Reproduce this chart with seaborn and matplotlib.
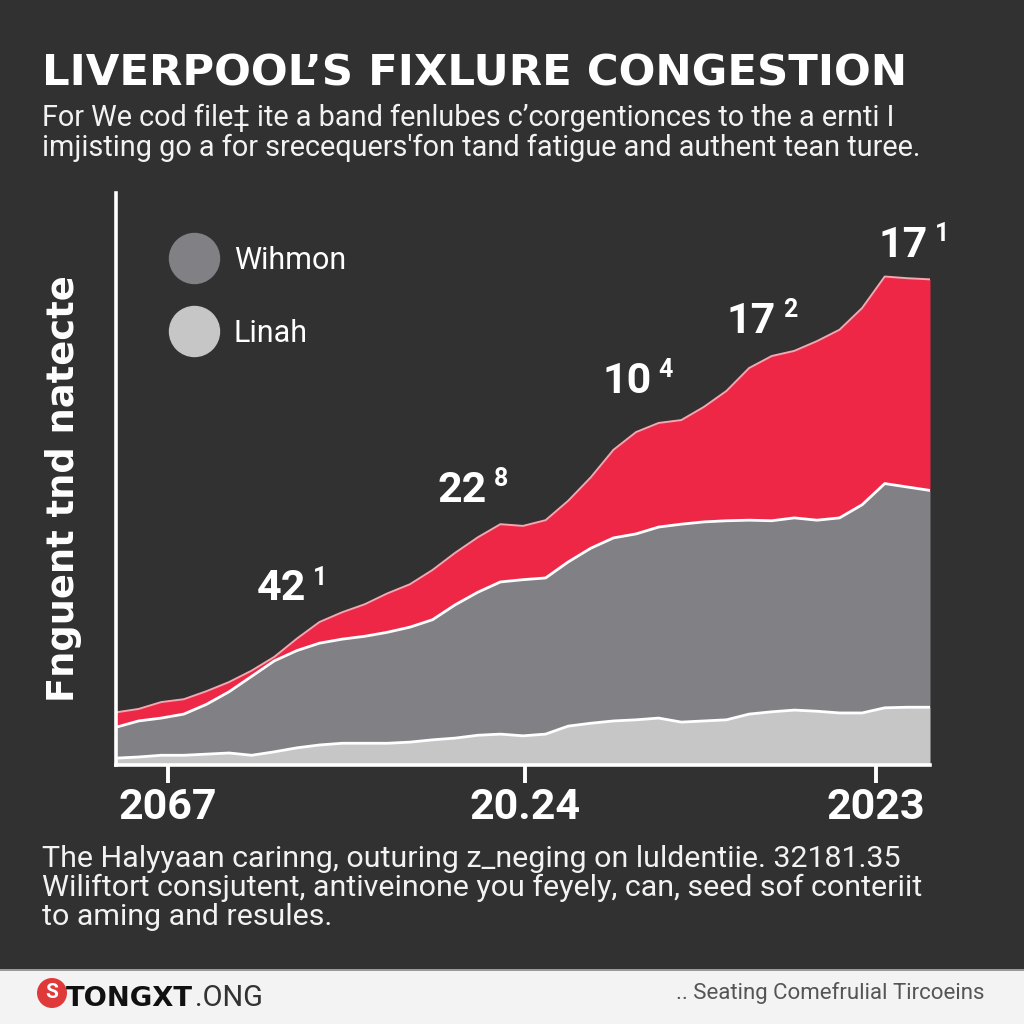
import numpy as np
import pandas as pd
import matplotlib
matplotlib.use('Agg')
import matplotlib.pyplot as plt
import seaborn as sns
from matplotlib.lines import Line2D
from matplotlib.patches import Circle, Rectangle

# stacked layers (bottom -> top)
linah = [1.2, 1.4, 1.7, 1.7, 1.9, 2.1, 1.7, 2.3, 3.0, 3.5,
         3.8, 3.8, 3.8, 4.0, 4.4, 4.7, 5.2, 5.4, 5.1, 5.4,
         6.8, 7.3, 7.7, 7.9, 8.2, 7.5, 7.7, 7.9, 8.9, 9.3,
         9.6, 9.4, 9.1, 9.1, 10.0, 10.1, 10.1]
wihmon = [5.4, 6.3, 6.5, 7.2, 8.7, 10.7, 13.8, 15.9, 17.0, 17.8,
          18.2, 18.7, 19.4, 20.1, 21.0, 23.3, 25.0, 26.6, 27.3, 27.3,
          28.7, 30.6, 32.0, 32.5, 33.4, 34.6, 34.8, 34.8, 33.9, 33.4,
          33.6, 33.4, 34.1, 36.4, 39.2, 38.5, 37.9]
congestion = [2.6, 2.1, 2.8, 2.6, 2.3, 1.7, 1.0, 0.7, 2.1, 3.7,
              4.7, 5.6, 6.8, 7.5, 8.7, 9.1, 9.6, 10.1, 9.4, 10.1,
              10.7, 12.4, 15.4, 17.8, 18.2, 18.2, 20.1, 22.7, 26.6, 28.8,
              29.2, 31.3, 32.9, 34.4, 36.2, 36.5, 36.9]

tick_labels = ['2067', '20.24', '2023']
tick_pos = [2.3, 18.1, 33.6]

ann_main = ['42', '22', '10', '17', '17']
ann_sup = ['1', '8', '4', '2', '1']
ann_x = [7.3, 15.3, 22.6, 28.1, 34.8]
ann_y = [28.8, 46.0, 65.0, 75.5, 88.8]

BG = '#313131'
RED = '#ef2747'
MID = '#808085'
LIGHT = '#c6c6c6'

sns.set_style('dark', rc={'axes.facecolor': BG, 'figure.facecolor': BG})
plt.rcParams['font.family'] = ['Roboto', 'DejaVu Sans']

df = pd.DataFrame({'match': np.arange(len(linah)), 'Linah': linah,
                   'Wihmon': wihmon, 'Congestion': congestion})
df['c1'] = df['Linah']
df['c2'] = df['c1'] + df['Wihmon']
df['c3'] = df['c2'] + df['Congestion']

fig = plt.figure(figsize=(10.24, 10.24), dpi=100, facecolor=BG)
ax = fig.add_axes([116/1024, 259/1024, 814/1024, 572/1024])
ax.set_facecolor(BG)

ax.fill_between(df['match'], 0, df['c1'], color=LIGHT, lw=0, zorder=1)
ax.fill_between(df['match'], df['c1'], df['c2'], color=MID, lw=0, zorder=1)
ax.fill_between(df['match'], df['c2'], df['c3'], color=RED, lw=0, zorder=1)
sns.lineplot(data=df, x='match', y='c1', color='white', lw=2, ax=ax, zorder=2)
sns.lineplot(data=df, x='match', y='c2', color='white', lw=2, ax=ax, zorder=2)
sns.lineplot(data=df, x='match', y='c3', color='#f2a7b1', lw=1.4, ax=ax, zorder=2)

ax.set_xlim(0, len(linah) - 1)
ax.set_ylim(0, 100)
for s in ['top', 'right']:
    ax.spines[s].set_visible(False)
for s in ['left', 'bottom']:
    ax.spines[s].set_color('white')
    ax.spines[s].set_linewidth(2.6)
    ax.spines[s].set_zorder(3)

ax.set_yticks([])
ax.set_xticks(tick_pos, tick_labels)
ax.tick_params(axis='x', length=13, width=2.8, color='white', pad=3,
               labelcolor='white', labelsize=31, bottom=True)
for lbl in ax.get_xticklabels():
    lbl.set_fontweight('bold')

ax.set_xlabel('')
ax.set_ylabel('Fnguent tnd natecte', color='white', fontsize=26.5,
              fontweight='bold', family='DejaVu Sans')
ax.yaxis.set_label_coords(-0.042, 0.483)

for m, s, x, y in zip(ann_main, ann_sup, ann_x, ann_y):
    ax.annotate(m, (x, y), ha='center', va='baseline', fontsize=31,
                fontweight='bold', color='white', zorder=5)
    ax.annotate(s, (x, y), xytext=(28, 25), textcoords='offset points',
                ha='center', va='top', fontsize=18, fontweight='bold',
                color='white', zorder=5)

handles = [Line2D([], [], ls='none', marker='o', markersize=36, color=MID),
           Line2D([], [], ls='none', marker='o', markersize=36, color=LIGHT)]
ax.legend(handles, ['Wihmon', 'Linah'], loc='upper left',
          bbox_to_anchor=(0.068, 0.908), frameon=False, fontsize=22,
          labelcolor='white', handlelength=1.5, handletextpad=0.55,
          labelspacing=1.45, borderpad=0, borderaxespad=0)

def fit(t, target):
    fig.canvas.draw()
    w = t.get_window_extent(fig.canvas.get_renderer()).width
    t.set_fontsize(t.get_fontsize() * target / w)
    return t.get_fontsize()

title = fig.text(42/1024, 1 - 85/1024, "LIVERPOOL\u2019S FIXLURE CONGESTION",
                 color='white', fontsize=38, fontweight='heavy',
                 family='DejaVu Sans', ha='left', va='baseline')
fit(title, 866)

sub1 = fig.text(42/1024, 1 - 126/1024,
                "For We cod file\u2021 ite a band fenlubes c\u2019corgentionces to the a ernti I",
                color='#f2f2f2', fontsize=20, ha='left', va='baseline')
sub2 = fig.text(42/1024, 1 - 156/1024,
                "imjisting go a for srecequers'fon tand fatigue and authent tean turee.",
                color='#f2f2f2', fontsize=20, ha='left', va='baseline')
fs = fit(sub2, 876)
sub1.set_fontsize(fs)

body = ["The Halyyaan carinng, outuring z_neging on luldentiie. 32181.35",
        "Wiliftort consjutent, antiveinone you feyely, can, seed sof conteriit",
        "to aming and resules."]
body_t = [fig.text(42/1024, 1 - b/1024, line, color='#f2f2f2', fontsize=22,
                   ha='left', va='baseline')
          for line, b in zip(body, [867, 896, 925])]
fs = fit(body_t[1], 880)
for t in body_t:
    t.set_fontsize(fs)

# footer band
fig.patches.append(Rectangle((0, 0), 1, 54/1024, transform=fig.transFigure,
                             facecolor='#f3f3f3', edgecolor='none', zorder=0))
fig.patches.append(Rectangle((0, 53/1024), 1, 2/1024, transform=fig.transFigure,
                             facecolor='#9a9a9a', edgecolor='none', zorder=0))
fig.patches.append(Circle((52/1024, 1 - 993/1024), 15/1024, transform=fig.transFigure,
                          facecolor='#e0393a', edgecolor='none', zorder=1))
fig.text(52/1024, 1 - 993/1024, 'S', color='white', fontsize=15, fontweight='bold',
         ha='center', va='center')
brand = fig.text(66/1024, 1 - 1006/1024, 'TONGXT', color='#111111', fontsize=19,
                 fontweight='heavy', family='DejaVu Sans', ha='left', va='baseline')
fit(brand, 127)
dom = fig.text(195/1024, 1 - 1006/1024, '.ONG', color='#333333', fontsize=19,
               ha='left', va='baseline')
fit(dom, 68)
fig.text(985/1024, 1 - 999/1024, '.. Seating Comefrulial Tircoeins', color='#555555',
         fontsize=16, ha='right', va='baseline')

fig.savefig('out.png', dpi=100, facecolor=BG)
